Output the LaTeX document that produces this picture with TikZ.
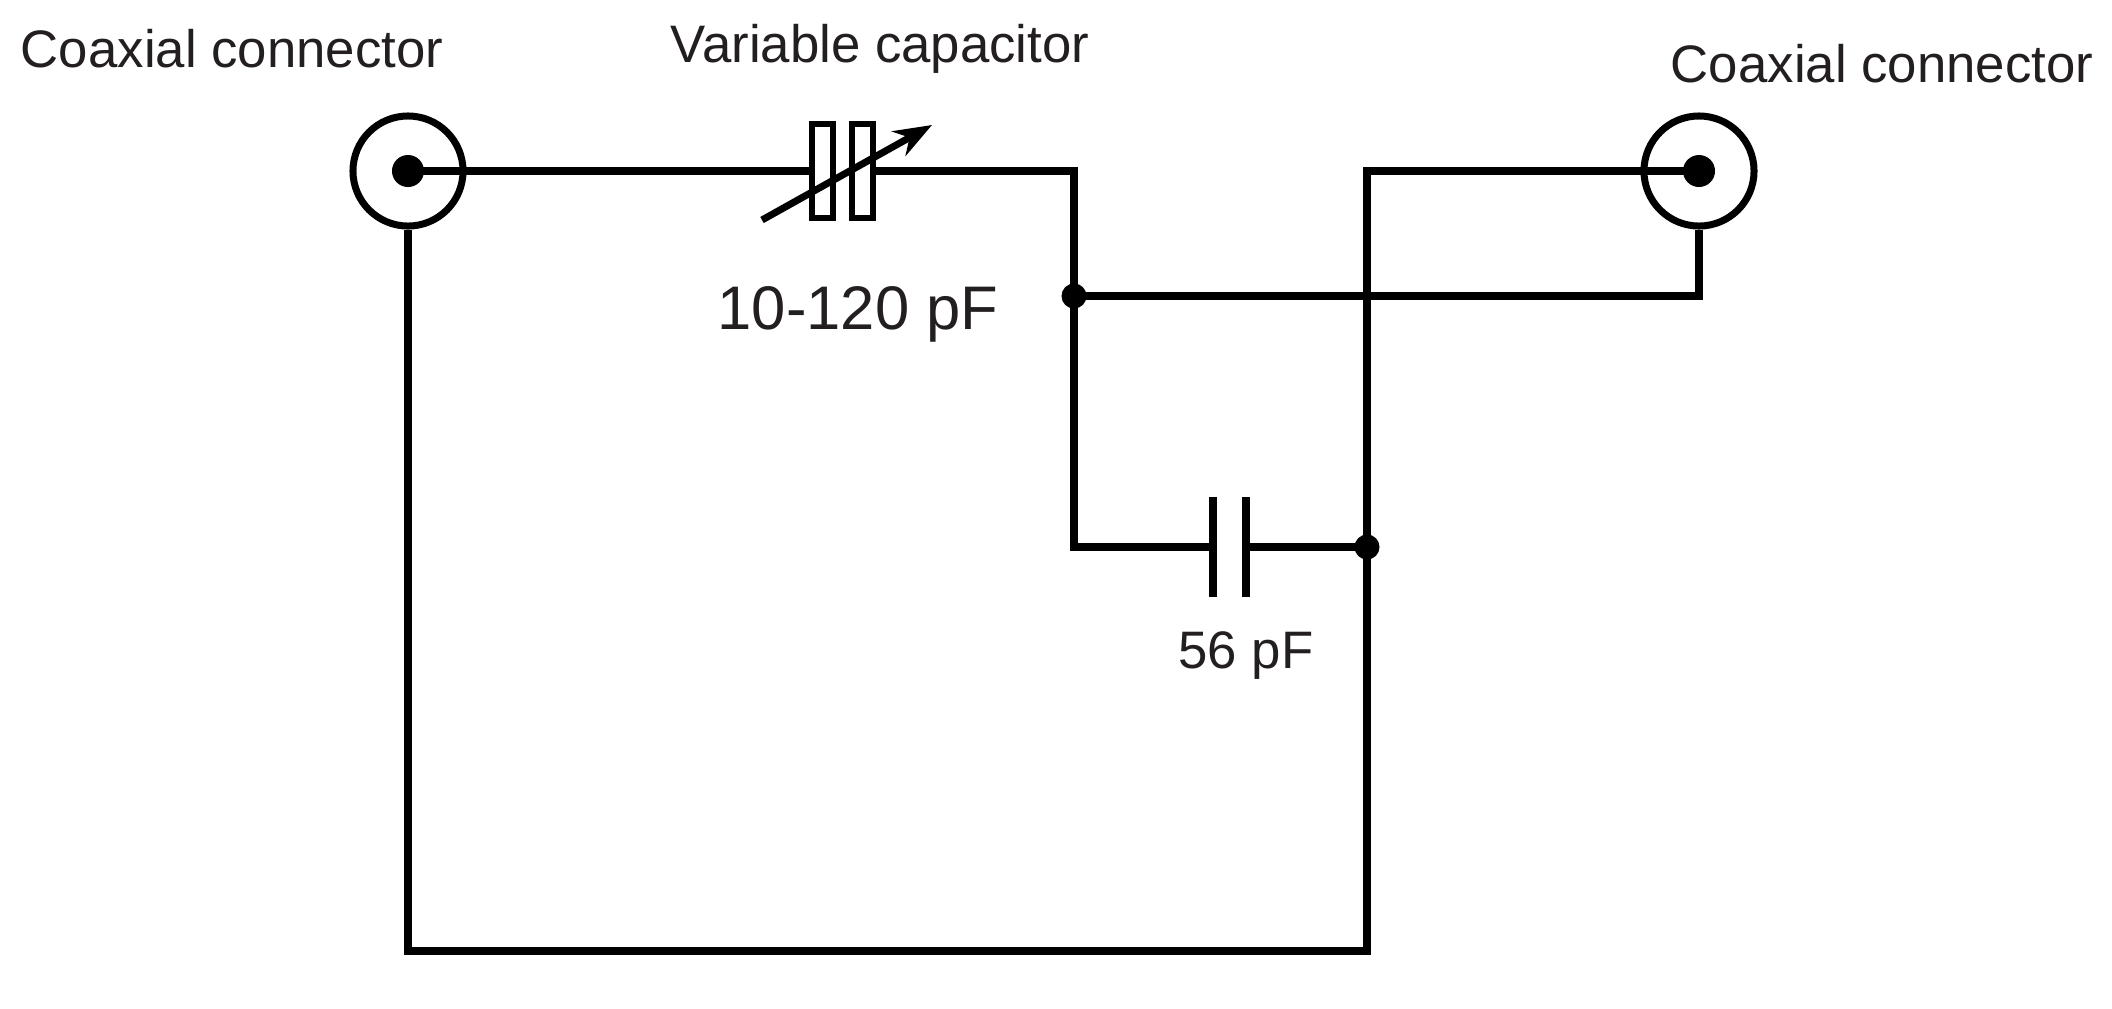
\documentclass[tikz,border=0pt]{standalone}
\usepackage{fontspec}
\setmainfont{Liberation Sans}
\usetikzlibrary{arrows.meta}
\definecolor{labelgray}{HTML}{231F20}
\begin{document}
\begin{tikzpicture}[x=0.01cm, y=-0.01cm, line join=miter, line width=0.08cm, >={Stealth[length=0.38cm, width=0.28cm]}]
	\tikzset{
		tag/.style={font=\fontsize{15pt}{18pt}\selectfont, text=labelgray, anchor=base, inner sep=0pt},
		value/.style={tag, font=\fontsize{17.5pt}{21pt}\selectfont},
		coax/.style={circle, draw, line width=0.07cm, minimum size=1.1cm, inner sep=0pt},
		core/.style={circle, fill, inner sep=0pt, minimum size=0.32cm},
		dot/.style={circle, fill, inner sep=0pt, minimum size=0.25cm},
		vplate/.style={rectangle, draw, line width=0.06cm, minimum width=0.21cm, minimum height=0.94cm, inner sep=0pt},
		plate/.style={rectangle, fill, minimum width=0.08cm, minimum height=1cm, inner sep=0pt, outer sep=0pt}
	}
	\useasboundingbox (0,0) rectangle (2112,1008);
	\node[coax] (coaxL) at (408,171) {};
	\node[core] (coreL) at (coaxL.center) {};
	\node[coax] (coaxR) at (1699,171) {};
	\node[core] (coreR) at (coaxR.center) {};
	\node[vplate] (vp1) at (822,171) {};
	\node[vplate] (vp2) at (862,171) {};
	\node[plate] (p1) at (1213,547) {};
	\node[plate] (p2) at (1246,547) {};
	\node[dot] (j1) at (1074,296) {};
	\node[dot] (j2) at (1367,547) {};
	\coordinate (gnd) at (1367,951);
	\coordinate (tuneS) at (762,220);
	\coordinate (tuneE) at (932,125);
	\draw (coreL.center) -- (vp1.west);
	\draw (vp2.east) -| (j1.center) |- (p1.west);
	\draw (p2.east) -- (j2.center);
	\draw (j1.center) -| (coaxR.south);
	\draw (coreR.center) -| (gnd) -| (coaxL.south);
	\draw[->, line width=0.07cm] (tuneS) -- (tuneE);
	\node[tag] (coaxLtext) at (232,67) {Coaxial connector};
	\node[tag] (vartext) at (880,62) {Variable capacitor};
	\node[tag] (coaxRtext) at (1882,82) {Coaxial connector};
	\node[value] (varval) at (858,329) {10-120 pF};
	\node[tag] (fixval) at (1246,668) {56 pF};
\end{tikzpicture}
\end{document}
